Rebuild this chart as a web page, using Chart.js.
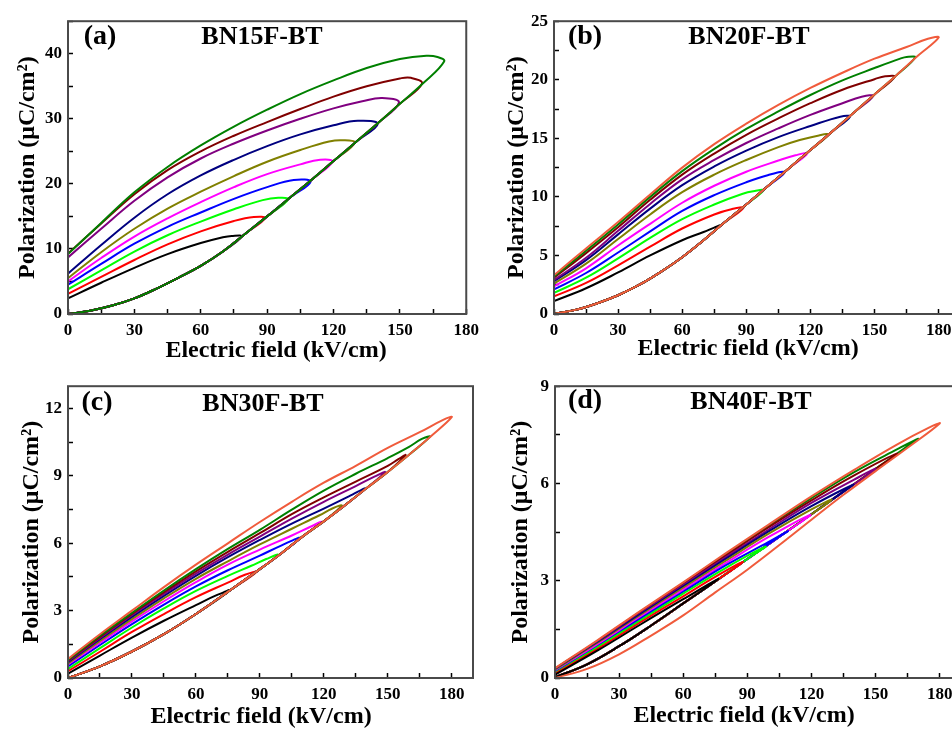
<!DOCTYPE html>
<html><head><meta charset="utf-8">
<script src="https://cdn.jsdelivr.net/npm/chart.js@4.4.1/dist/chart.umd.min.js"></script>
<style>
html,body{margin:0;padding:0;background:#fff;overflow:hidden;width:952px;height:731px;position:relative;}
canvas{position:absolute;display:block;}
</style></head><body>
<canvas id="cA" width="490" height="365" style="left:0;top:0"></canvas>
<canvas id="cB" width="500" height="365" style="left:480px;top:0"></canvas>
<canvas id="cC" width="490" height="366" style="left:0;top:365px"></canvas>
<canvas id="cD" width="500" height="366" style="left:480px;top:365px"></canvas>
<script>
// ---------- text ----------
const panelTags = ['(a)', '(b)', '(c)', '(d)'];
const sampleNames = ['BN15F-BT', 'BN20F-BT', 'BN30F-BT', 'BN40F-BT'];
const xTitle = 'Electric field (kV/cm)';
const yTitle = 'Polarization (\u03BCC/cm\u00B2)';
const loopNames = ['80 kV/cm', '90 kV/cm', '100 kV/cm', '110 kV/cm', '120 kV/cm', '130 kV/cm',
                   '140 kV/cm', '150 kV/cm', '160 kV/cm', '170 kV/cm', '180 kV/cm'];

// ---------- panel (a) BN15F-BT : [E (kV/cm), P (uC/cm2)] ----------
const aLower = [[0,0],[10,0.5],[20,1.3],[30,2.4],[40,3.9],[50,5.6],[60,7.4],[70,9.6],[80,12.3],[90,15.0],
                [100,17.8],[110,20.6],[120,23.5],[130,26.4],[140,29.3],[150,32.3],[160,35.3],[170,38.7]];
const aBlack   = [[78.5,11.9],[74,12.0],[70,11.8],[60,10.9],[45,9.2],[30,7.1],[15,4.8],[0,2.4]];
const aRed     = [[89,14.7],[84,14.9],[75,14.3],[60,12.7],[45,10.7],[30,8.3],[15,5.7],[0,3.1]];
const aLime    = [[99.5,17.6],[95,17.85],[88,17.5],[75,16.1],[60,14.2],[45,12.1],[30,9.6],[15,6.7],[0,3.8]];
const aBlue    = [[109.6,20.3],[102,20.6],[90,19.5],[75,17.7],[60,15.6],[45,13.4],[30,10.8],[15,7.7],[0,4.5]];
const aMagenta = [[119.5,23.4],[114,23.7],[105,23.0],[90,21.5],[75,19.5],[60,17.2],[45,14.7],[30,11.9],[15,8.6],[0,5.0]];
const aOlive   = [[129.6,26.3],[124,26.7],[118,26.5],[105,25.2],[90,23.4],[75,21.2],[60,18.8],[45,16.2],[30,13.1],[15,9.5],[0,5.5]];
const aNavy    = [[140,29.2],[131,29.7],[120,29.0],[105,27.6],[90,25.8],[75,23.7],[60,21.3],[45,18.4],[30,14.8],[15,10.6],[0,6.2]];
const aPurple  = [[149.6,32.5],[142,33.2],[133,32.7],[120,31.6],[105,30.0],[90,28.2],[75,26.2],[60,23.9],[45,21.0],[30,17.4],[15,13.1],[0,8.7]];
const aDarkRed = [[160,35.4],[155,36.3],[150,36.2],[135,35.0],[120,33.4],[105,31.5],[90,29.5],[75,27.4],[60,25.0],[45,22.1],[30,18.4],[15,13.9],[0,9.3]];
const aGreen   = [[170,38.8],[167,39.5],[162,39.7],[150,39.2],[135,37.8],[120,35.9],[105,33.8],[90,31.4],[75,28.8],[60,25.9],[45,22.6],[30,18.7],[15,14.0],[0,9.2]];

// ---------- panel (b) BN20F-BT ----------
const bLower = [[0,0],[10,0.35],[20,0.9],[30,1.6],[40,2.5],[50,3.6],[60,4.85],[70,6.3],[80,7.85],[90,9.35],
                [100,10.9],[110,12.45],[120,14.0],[130,15.55],[140,17.15],[150,18.75],[160,20.35],[170,22.0]];
const bBlack   = [[77.7,7.55],[75,7.38],[70,7.0],[60,6.3],[45,5.0],[30,3.55],[15,2.2],[0,1.1]];
const bRed     = [[88.6,9.05],[83,8.95],[75,8.5],[60,7.3],[45,5.75],[30,4.15],[15,2.65],[0,1.5]];
const bLime    = [[98,10.55],[94,10.5],[88,10.25],[75,9.35],[60,8.1],[45,6.5],[30,4.75],[15,3.1],[0,1.8]];
const bBlue    = [[108,12.1],[100,11.85],[90,11.25],[75,10.15],[60,8.8],[45,7.05],[30,5.25],[15,3.5],[0,2.1]];
const bMagenta = [[118.5,13.7],[113,13.55],[105,13.1],[90,12.15],[75,10.95],[60,9.5],[45,7.7],[30,5.85],[15,3.9],[0,2.35]];
const bOlive   = [[128.4,15.3],[124,15.25],[115,14.85],[105,14.25],[90,13.15],[75,11.9],[60,10.4],[45,8.5],[30,6.4],[15,4.3],[0,2.6]];
const bNavy    = [[138.5,16.85],[134,16.85],[120,16.05],[105,15.1],[90,13.95],[75,12.6],[60,11.0],[45,9.0],[30,6.8],[15,4.6],[0,2.8]];
const bPurple  = [[149.4,18.6],[144,18.55],[135,18.0],[120,17.0],[105,15.85],[90,14.6],[75,13.15],[60,11.5],[45,9.4],[30,7.1],[15,4.8],[0,2.9]];
const bDarkRed = [[159.5,20.25],[155,20.3],[150,20.05],[135,19.15],[120,18.0],[105,16.7],[90,15.3],[75,13.7],[60,11.9],[45,9.75],[30,7.4],[15,5.2],[0,3.1]];
const bGreen   = [[169,21.9],[165,21.95],[162,21.8],[150,21.0],[135,19.95],[120,18.7],[105,17.3],[90,15.8],[75,14.1],[60,12.2],[45,10.0],[30,7.65],[15,5.4],[0,3.2]];
const bOrange  = [[180,23.6],[175,23.5],[165,22.8],[150,21.8],[135,20.6],[120,19.3],[105,17.85],[90,16.25],[75,14.5],[60,12.5],[45,10.2],[30,7.85],[15,5.6],[0,3.3]];

// ---------- panel (c) BN30F-BT ----------
const cLower = [[0,0],[15,0.52],[30,1.18],[45,1.95],[60,2.85],[75,3.84],[90,4.85],[100,5.55],[110,6.3],
                [120,6.98],[130,7.7],[140,8.45],[150,9.18],[160,9.95],[170,10.75]];
const cBlack   = [[75.9,3.9],[70,3.7],[60,3.25],[45,2.55],[30,1.8],[15,1.0],[0,0.19]];
const cRed     = [[88.4,4.72],[83,4.6],[75,4.25],[60,3.6],[45,2.85],[30,2.05],[15,1.17],[0,0.3]];
const cLime    = [[98.6,5.49],[93,5.3],[86,5.0],[75,4.55],[60,3.88],[45,3.1],[30,2.25],[15,1.33],[0,0.4]];
const cBlue    = [[108.8,6.24],[100,5.9],[90,5.45],[75,4.8],[60,4.08],[45,3.27],[30,2.4],[15,1.47],[0,0.52]];
const cMagenta = [[118.9,6.95],[114,6.75],[105,6.35],[90,5.72],[75,5.05],[60,4.27],[45,3.42],[30,2.52],[15,1.57],[0,0.6]];
const cOlive   = [[128.4,7.68],[124,7.55],[118,7.25],[105,6.65],[90,5.95],[75,5.2],[60,4.42],[45,3.55],[30,2.62],[15,1.65],[0,0.65]];
const cNavy    = [[139.3,8.44],[132,8.1],[120,7.55],[105,6.88],[90,6.15],[75,5.38],[60,4.55],[45,3.66],[30,2.72],[15,1.73],[0,0.71]];
const cPurple  = [[148.7,9.17],[144,8.98],[135,8.55],[120,7.85],[105,7.1],[90,6.3],[75,5.5],[60,4.65],[45,3.75],[30,2.8],[15,1.78],[0,0.75]];
const cDarkRed = [[158.3,9.93],[155,9.75],[150,9.45],[135,8.75],[120,8.05],[105,7.3],[90,6.45],[75,5.62],[60,4.75],[45,3.82],[30,2.85],[15,1.83],[0,0.78]];
const cGreen   = [[169.8,10.75],[166,10.65],[160,10.3],[150,9.8],[135,9.1],[120,8.35],[105,7.5],[90,6.6],[75,5.75],[60,4.85],[45,3.9],[30,2.9],[15,1.88],[0,0.81]];
const cOrange  = [[180,11.62],[176,11.5],[165,10.95],[150,10.25],[135,9.45],[120,8.7],[105,7.85],[90,6.95],[75,6.0],[60,5.05],[45,4.05],[30,3.0],[15,1.95],[0,0.85]];

// ---------- panel (d) BN40F-BT ----------
const dLowerInner = [[0,0.02],[15,0.42],[30,0.98],[45,1.62],[60,2.3],[75,2.98],[90,3.67],[105,4.36],
                     [120,5.05],[135,5.75],[150,6.45],[165,7.15]];
const dLowerOuter = [[0,0],[15,0.28],[30,0.73],[45,1.31],[60,1.93],[75,2.64],[90,3.34],[105,4.1],
                     [120,4.88],[135,5.65],[150,6.38],[165,7.1]];
const dBlack   = [[76.5,3.05],[60,2.43],[40,1.65],[20,0.85],[0,0.1]];
const dRed     = [[88,3.58],[75,3.12],[60,2.52],[40,1.72],[20,0.9],[0,0.13]];
const dLime    = [[98.5,4.05],[80,3.4],[60,2.6],[40,1.78],[20,0.95],[0,0.15]];
const dBlue    = [[109,4.53],[100,4.2],[80,3.48],[60,2.66],[40,1.83],[20,0.98],[0,0.17]];
const dMagenta = [[119.5,5.03],[100,4.35],[80,3.55],[60,2.72],[40,1.88],[20,1.02],[0,0.19]];
const dOlive   = [[129.5,5.5],[120,5.2],[100,4.45],[80,3.62],[60,2.77],[40,1.92],[20,1.05],[0,0.21]];
const dNavy    = [[139.5,5.96],[120,5.3],[100,4.52],[80,3.68],[60,2.82],[40,1.96],[20,1.08],[0,0.23]];
const dPurple  = [[150,6.45],[140,6.12],[120,5.4],[100,4.58],[80,3.73],[60,2.86],[40,1.99],[20,1.1],[0,0.25]];
const dDarkRed = [[160,6.92],[140,6.25],[120,5.48],[100,4.65],[80,3.78],[60,2.9],[40,2.02],[20,1.13],[0,0.27]];
const dGreen   = [[170,7.38],[160,7.05],[140,6.35],[120,5.55],[100,4.7],[80,3.82],[60,2.93],[40,2.05],[20,1.15],[0,0.29]];
const dOrange  = [[180,7.85],[175,7.72],[160,7.2],[140,6.42],[120,5.6],[100,4.73],[80,3.85],[60,2.95],[40,2.07],[20,1.17],[0,0.3]];

// ---------- axis ranges ----------
const xMax = [180, 190, 190, 190];
const yMax = [45, 25, 13, 9];
const yStep = [5, 2.5, 1.5, 1.5];
const yLabelStep = [10, 5, 3, 3];

// ---------- styles ----------
const loopColors = ['#000000', '#ff0000', '#00ff00', '#0000ff', '#ff00ff', '#808000',
                    '#000080', '#800080', '#800000', '#008000', '#f05b3c'];
const FONT = '"Liberation Serif", "Times New Roman", serif';

function loopPoints(lower, upper) {
  const tipE = upper[0][0];
  return lower.filter(p => p[0] < tipE - 2).concat(upper).map(p => ({x: p[0], y: p[1]}));
}
function isMult(v, s) { return Math.abs(v / s - Math.round(v / s)) < 1e-6; }

const decor = {
  id: 'decor',
  afterDatasetsDraw(chart, args, o) {
    const {ctx, chartArea: a} = chart;
    ctx.save();
    ctx.strokeStyle = '#4a4a4a';
    ctx.lineWidth = 2;
    ctx.strokeRect(a.left, a.top, a.right - a.left, a.bottom - a.top);
    ctx.fillStyle = '#000';
    ctx.textAlign = 'center';
    ctx.textBaseline = 'middle';
    ctx.font = 'bold 28px ' + FONT;
    ctx.fillText(o.tag, o.tagX, o.tagY);
    ctx.font = 'bold 26px ' + FONT;
    ctx.fillText(o.name, o.nameX, o.nameY);
    ctx.font = 'bold 24px ' + FONT;
    ctx.fillText(o.xTitle, o.xtX, o.xtY);
    ctx.restore();
  }
};

// drawOrder: smaller value = drawn later (on top)
function makePanel(id, k, loops, lowers, drawOrder, L) {
  const datasets = loops.map((up, i) => ({
    label: loopNames[i],
    data: loopPoints(lowers[i], up),
    borderColor: loopColors[i],
    backgroundColor: loopColors[i],
    borderWidth: 2,
    pointRadius: 0,
    tension: 0.4,
    fill: false,
    order: drawOrder[i]
  }));
  const tickFont = {family: FONT, size: 17, weight: 'bold'};
  const grid = {drawOnChartArea: false, drawTicks: true, tickLength: -5, tickWidth: 1.5, tickColor: '#000'};
  new Chart(document.getElementById(id), {
    type: 'line',
    data: {datasets},
    plugins: [decor],
    options: {
      responsive: false, animation: false, devicePixelRatio: 1, events: [],
      layout: {padding: {left: 0, top: L.top, right: L.right, bottom: 0}},
      plugins: {
        legend: {display: false}, tooltip: {enabled: false},
        decor: {tag: panelTags[k], name: sampleNames[k], xTitle: xTitle,
                tagX: L.tagX, tagY: L.tagY, nameX: L.nameX, nameY: L.nameY, xtX: L.xtX, xtY: L.xtY}
      },
      scales: {
        x: {
          type: 'linear', min: 0, max: xMax[k],
          border: {display: false}, grid: grid,
          ticks: {stepSize: 15, includeBounds: false, autoSkip: false, maxRotation: 0, padding: 11,
                  color: '#000', font: tickFont, callback: v => isMult(v, 30) ? String(v) : ''},
          afterFit: s => { s.height = L.xH; }
        },
        y: {
          type: 'linear', min: 0, max: yMax[k],
          border: {display: false}, grid: grid,
          ticks: {stepSize: yStep[k], includeBounds: false, autoSkip: false, padding: 11,
                  color: '#000', font: tickFont, callback: v => isMult(v, yLabelStep[k]) ? String(v) : ''},
          title: {display: true, text: yTitle, color: '#000',
                  font: {family: FONT, size: 24, weight: 'bold'}, padding: {top: L.ytPad, bottom: 0}},
          afterFit: s => { s.width = L.yW; }
        }
      }
    }
  });
}

const outerOnTop10 = [10, 9, 8, 7, 6, 5, 4, 3, 2, 1];
const outerOnTop11 = [11, 10, 9, 8, 7, 6, 5, 4, 3, 2, 1];
const innerReversed = [2, 3, 4, 5, 6, 7, 8, 9, 10, 11, 1];

makePanel('cA', 0,
  [aBlack, aRed, aLime, aBlue, aMagenta, aOlive, aNavy, aPurple, aDarkRed, aGreen],
  Array(10).fill(aLower), outerOnTop10,
  {top: 15, right: 17, yW: 68, xH: 51, ytPad: 13, tagX: 100, tagY: 37, nameX: 262, nameY: 37.5, xtX: 276, xtY: 350.5});
makePanel('cB', 1,
  [bBlack, bRed, bLime, bBlue, bMagenta, bOlive, bNavy, bPurple, bDarkRed, bGreen, bOrange],
  Array(11).fill(bLower), outerOnTop11,
  {top: 15, right: 20, yW: 74, xH: 51, ytPad: 22, tagX: 105, tagY: 37, nameX: 269, nameY: 37, xtX: 268, xtY: 349});
makePanel('cC', 2,
  [cBlack, cRed, cLime, cBlue, cMagenta, cOlive, cNavy, cPurple, cDarkRed, cGreen, cOrange],
  Array(11).fill(cLower), outerOnTop11,
  {top: 14, right: 17, yW: 68, xH: 53, ytPad: 17, tagX: 97, tagY: 38, nameX: 263, nameY: 39, xtX: 261, xtY: 352});
makePanel('cD', 3,
  [dBlack, dRed, dLime, dBlue, dMagenta, dOlive, dNavy, dPurple, dDarkRed, dGreen, dOrange],
  Array(10).fill(dLowerInner).concat([dLowerOuter]), innerReversed,
  {top: 13, right: 19, yW: 75, xH: 53, ytPad: 26, tagX: 105, tagY: 36, nameX: 271, nameY: 37, xtX: 264, xtY: 351});
</script>
</body></html>
